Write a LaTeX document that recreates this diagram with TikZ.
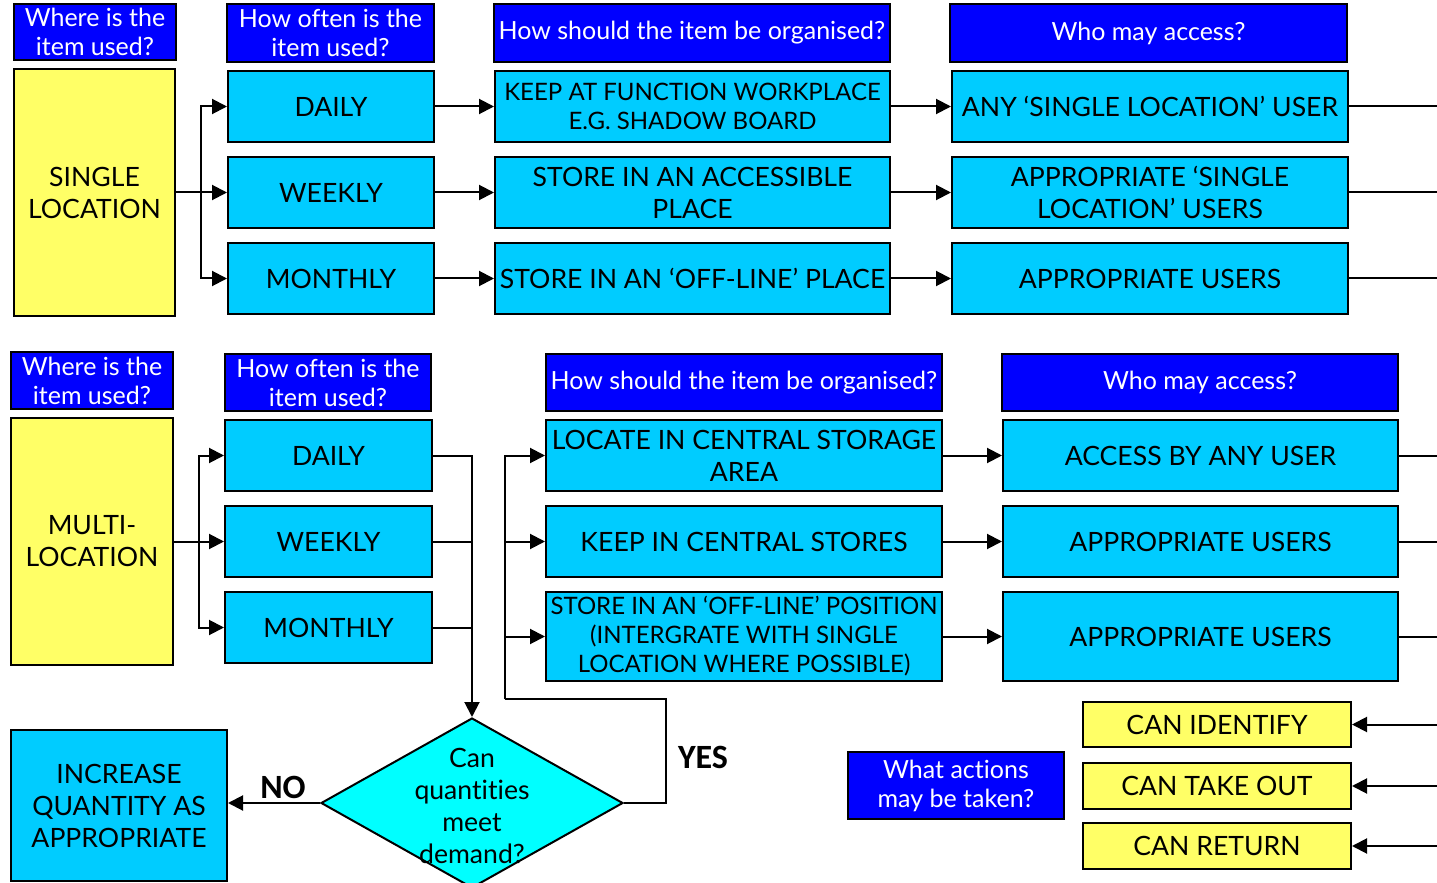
\documentclass[tikz,border=0pt]{standalone}
\usepackage{fontspec}
\setmainfont{Lato}[Ligatures=NoCommon]
\newfontfamily\labelfont{Carlito}
\usepackage{tikz}
\usetikzlibrary{arrows.meta,shapes.geometric,positioning,calc}
\definecolor{qblue}{HTML}{0000FF}
\definecolor{boxcyan}{HTML}{00CCFF}
\definecolor{spot}{HTML}{FFFF66}
\definecolor{diam}{HTML}{00FFFF}
\tikzset{
  sz/.style 2 args={minimum width=#1*0.5pt,minimum height=#2*0.5pt},
  ask/.style={draw=black,line width=1pt,fill=qblue,text=white,inner sep=0pt,
    align=center,font=\fontsize{12.5}{14.5}\selectfont},
  pick/.style={draw=black,line width=1pt,fill=boxcyan,inner sep=0pt,
    align=center,font=\fontsize{13.3}{16}\selectfont},
  small/.style={font=\fontsize{12}{14.5}\selectfont},
  spotbox/.style={pick,fill=spot},
  decide/.style={diamond,draw=black,line width=1pt,fill=diam,inner sep=0pt},
  flow/.style={line width=1pt},
  go/.style={flow,-{Triangle[length=7.5pt,width=7.5pt]}},
  yesno/.style={font=\labelfont\bfseries\fontsize{17}{17}\selectfont}
}
\begin{document}
\begin{tikzpicture}[x=0.5pt,y=-0.5pt]
\useasboundingbox (0,0) rectangle (1437,883);
\coordinate (rim) at (1437,0);

\node[ask,sz={162}{56}] (hw1) at (95,32) {Where is the\\item used?};
\node[ask,sz={207}{58}] (hf1) at (330.5,33) {How often is the\\item used?};
\node[ask,sz={396}{58}] (ho1) at (692,33) {How should the item be organised?};
\node[ask,sz={397}{58}] (ha1) at (1148.5,33) {Who may access?};

\node[spotbox,sz={161}{247}] (single) at (94.5,192.5) {SINGLE\\LOCATION};
\node[pick,sz={206}{71}] (d1) at (331,106.5) {DAILY};
\node[pick,sz={206}{71}] (w1) at (331,192.5) {WEEKLY};
\node[pick,sz={206}{71}] (m1) at (331,278.5) {MONTHLY};
\node[pick,small,sz={395}{71}] (o1a) at (692.5,106.5) {KEEP AT FUNCTION WORKPLACE\\E.G. SHADOW BOARD};
\node[pick,sz={395}{71}] (o1b) at (692.5,192.5) {STORE IN AN ACCESSIBLE\\PLACE};
\node[pick,sz={395}{71}] (o1c) at (692.5,278.5) {STORE IN AN ‘OFF-LINE’ PLACE};
\node[pick,sz={396}{71}] (a1a) at (1150,106.5) {ANY ‘SINGLE LOCATION’ USER};
\node[pick,sz={396}{71}] (a1b) at (1150,192.5) {APPROPRIATE ‘SINGLE\\LOCATION’ USERS};
\node[pick,sz={396}{71}] (a1c) at (1150,278.5) {APPROPRIATE USERS};

\coordinate (j1) at (201,192.5);
\draw[flow] (single.east) -- (j1);
\draw[go] (j1) |- (d1.west);
\draw[go] (j1) -- (w1.west);
\draw[go] (j1) |- (m1.west);
\draw[go] (d1) -- (o1a);
\draw[go] (w1) -- (o1b);
\draw[go] (m1) -- (o1c);
\draw[go] (o1a) -- (a1a);
\draw[go] (o1b) -- (a1b);
\draw[go] (o1c) -- (a1c);
\draw[flow] (a1a.east) -- (a1a.east -| rim);
\draw[flow] (a1b.east) -- (a1b.east -| rim);
\draw[flow] (a1c.east) -- (a1c.east -| rim);

\node[ask,sz={162}{57}] (hw2) at (92,380.5) {Where is the\\item used?};
\node[ask,sz={206}{57}] (hf2) at (328,382.5) {How often is the\\item used?};
\node[ask,sz={396}{57}] (ho2) at (744,382.5) {How should the item be organised?};
\node[ask,sz={396}{57}] (ha2) at (1200,382.5) {Who may access?};

\node[spotbox,sz={162}{247}] (multi) at (92,541.5) {MULTI-\\LOCATION};
\node[pick,sz={207}{71}] (d2) at (328.5,455.5) {DAILY};
\node[pick,sz={207}{71}] (w2) at (328.5,541.5) {WEEKLY};
\node[pick,sz={207}{71}] (m2) at (328.5,627.5) {MONTHLY};
\node[pick,sz={396}{71}] (o2a) at (744,455.5) {LOCATE IN CENTRAL STORAGE\\AREA};
\node[pick,sz={396}{71}] (o2b) at (744,541.5) {KEEP IN CENTRAL STORES};
\node[pick,small,sz={396}{89}] (o2c) at (744,636.5) {STORE IN AN ‘OFF-LINE’ POSITION\\(INTERGRATE WITH SINGLE\\LOCATION WHERE POSSIBLE)};
\node[pick,sz={395}{71}] (a2a) at (1200.5,455.5) {ACCESS BY ANY USER};
\node[pick,sz={395}{71}] (a2b) at (1200.5,541.5) {APPROPRIATE USERS};
\node[pick,sz={395}{89}] (a2c) at (1200.5,636.5) {APPROPRIATE USERS};

\coordinate (j2) at (199,541.5);
\draw[flow] (multi.east) -- (j2);
\draw[go] (j2) |- (d2.west);
\draw[go] (j2) -- (w2.west);
\draw[go] (j2) |- (m2.west);

\node[decide,sz={302}{170}] (q) at (472,803) {};
\node[font=\fontsize{13.3}{16}\selectfont,align=center] (qtext) at (472,806) {Can\\quantities\\meet\\demand?};
\draw[go] (d2.east) -| (q.north);
\draw[flow] (w2.east) -- (w2.east -| q.north);
\draw[flow] (m2.east) -- (m2.east -| q.north);

\coordinate (yr) at (666,699);
\coordinate (yl) at (505,699);
\draw[flow] (q.east) -| (yr) -- (yl);
\draw[go] (yl) |- (o2a.west);
\draw[go] (yl) |- (o2b.west);
\draw[go] (yl) |- (o2c.west);
\node[yesno] (yes) at (703,757) {YES};

\node[pick,sz={216}{151}] (more) at (119,805.5) {INCREASE\\QUANTITY AS\\APPROPRIATE};
\draw[go] (q.west) -- (q.west -| more.east);
\node[yesno] (no) at (283,787) {NO};

\draw[go] (o2a) -- (a2a);
\draw[go] (o2b) -- (a2b);
\draw[go] (o2c) -- (a2c);
\draw[flow] (a2a.east) -- (a2a.east -| rim);
\draw[flow] (a2b.east) -- (a2b.east -| rim);
\draw[flow] (a2c.east) -- (a2c.east -| rim);

\node[ask,sz={216}{67}] (act) at (956,785.5) {What actions\\may be taken?};
\node[spotbox,sz={268}{45}] (cid) at (1217,724.5) {CAN IDENTIFY};
\node[spotbox,sz={268}{46}] (cto) at (1217,786) {CAN TAKE OUT};
\node[spotbox,sz={268}{46}] (cre) at (1217,846) {CAN RETURN};
\draw[go] (cid.east -| rim) -- (cid.east);
\draw[go] (cto.east -| rim) -- (cto.east);
\draw[go] (cre.east -| rim) -- (cre.east);
\end{tikzpicture}
\end{document}
